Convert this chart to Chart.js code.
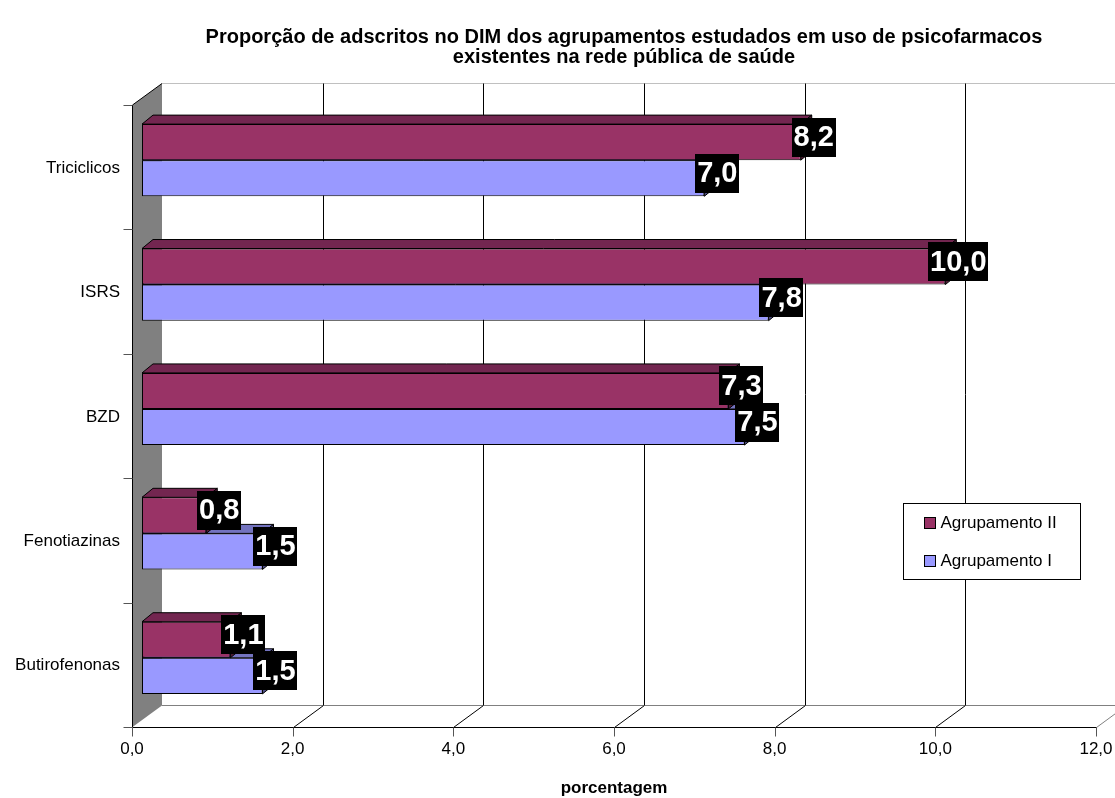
<!DOCTYPE html>
<html>
<head>
<meta charset="utf-8">
<title>Psicofarmacos</title>
<script src="https://cdn.jsdelivr.net/npm/chart.js@4.4.0/dist/chart.umd.min.js"></script>
<style>
    html, body { margin: 0; padding: 0; background: #fff; }
</style>
</head>
<body>
<canvas id="chartPsicofarmacos" width="1115" height="798"></canvas>
<script>
// Dados
const categorias = ['Triciclicos', 'ISRS', 'BZD', 'Fenotiazinas', 'Butirofenonas'];
const agrupamentoII = [8.2, 10.0, 7.3, 0.8, 1.1];
const agrupamentoI = [7.0, 7.8, 7.5, 1.5, 1.5];
const nomesSeries = ['Agrupamento II', 'Agrupamento I'];
const ticksX = [0, 2, 4, 6, 8, 10, 12];
const titulo = [
    'Proporção de adscritos no DIM dos agrupamentos estudados em uso de psicofarmacos',
    'existentes na rede pública de saúde'
];
const tituloEixoX = 'porcentagem';

// Cores (estilo Excel)
const corII = '#993366';
const corI = '#9999ff';
const faces = [
    { topo: '#732650', lado: '#4d1a33' },
    { topo: '#7373bf', lado: '#4d4d80' }
];

// deslocamentos do efeito 3D (px)
const barra3D = { dx: 11, dy: 9 };
const frente = { dx: -10, dy: 7 };
const fundo = { dx: 20, dy: -15 };

function formatar(v) {
    return Number(v).toFixed(1).replace('.', ',');
}

function linha(ctx, x1, y1, x2, y2) {
    ctx.beginPath();
    ctx.moveTo(x1, y1);
    ctx.lineTo(x2, y2);
    ctx.stroke();
}

function poligono(ctx, pts, cor) {
    ctx.beginPath();
    ctx.moveTo(pts[0][0], pts[0][1]);
    for (let i = 1; i < pts.length; i++) ctx.lineTo(pts[i][0], pts[i][1]);
    ctx.closePath();
    ctx.fillStyle = cor;
    ctx.fill();
    ctx.stroke();
}

const efeito3D = {
    id: 'efeito3D',
    beforeDatasetsDraw(chart) {
        const { ctx, chartArea: a, scales: { x } } = chart;
        const n = categorias.length;
        const fTop = a.top + frente.dy, fBot = a.bottom + frente.dy, fLeft = Math.round(a.left + frente.dx) + 0.5;
        const bTop = Math.round(a.top + fundo.dy) + 0.5, bBot = Math.round(a.bottom + fundo.dy) + 0.5;
        const bLeft = a.left + fundo.dx;
        const xFrente = v => Math.round(x.getPixelForValue(v) + frente.dx) + 0.5;
        const xFundo = v => Math.round(x.getPixelForValue(v) + fundo.dx) + 0.5;
        const ultimo = ticksX[ticksX.length - 1];
        const yFrenteBase = Math.round(fBot) + 0.5;

        ctx.save();
        ctx.lineWidth = 1;

        // parede lateral
        ctx.fillStyle = '#808080';
        ctx.beginPath();
        ctx.moveTo(fLeft, fTop);
        ctx.lineTo(bLeft, bTop);
        ctx.lineTo(bLeft, bBot);
        ctx.lineTo(fLeft, fBot);
        ctx.closePath();
        ctx.fill();

        // borda de cima da parede do fundo
        ctx.strokeStyle = '#c0c0c0';
        linha(ctx, bLeft, bTop, xFundo(ultimo), bTop);

        // linhas de grade na parede do fundo
        ctx.strokeStyle = '#000';
        ticksX.forEach(v => {
            if (v === 0) return;
            linha(ctx, xFundo(v), bTop, xFundo(v), bBot);
        });

        // chao
        ctx.strokeStyle = '#808080';
        linha(ctx, bLeft, bBot, xFundo(ultimo), bBot);
        ticksX.forEach(v => {
            if (v === 0) return;
            ctx.strokeStyle = v === ultimo ? '#808080' : '#000';
            linha(ctx, xFrente(v), yFrenteBase, xFundo(v), bBot);
        });
        ctx.strokeStyle = '#000';
        linha(ctx, fLeft, yFrenteBase, xFrente(ultimo), yFrenteBase);

        // eixo vertical e topo da parede lateral
        linha(ctx, fLeft, fTop, fLeft, fBot);
        linha(ctx, fLeft, fTop, bLeft, bTop);

        // marcas dos eixos
        ctx.strokeStyle = '#555';
        ticksX.forEach(v => linha(ctx, xFrente(v), yFrenteBase, xFrente(v), yFrenteBase + 9));
        for (let i = 0; i <= n; i++) {
            const yy = Math.round(fTop + i * (fBot - fTop) / n) + 0.5;
            linha(ctx, fLeft - 9, yy, fLeft, yy);
        }
        ctx.restore();
    },
    afterDatasetDraw(chart, args) {
        const { ctx } = chart;
        const cores = faces[args.index];
        ctx.save();
        ctx.strokeStyle = '#000';
        ctx.lineWidth = 1;
        args.meta.data.forEach(bar => {
            const { x: fim, y: cy, base, height } = bar.getProps(['x', 'y', 'base', 'height'], true);
            const t = cy - height / 2, b = cy + height / 2;
            poligono(ctx, [[base, t], [base + barra3D.dx, t - barra3D.dy], [fim + barra3D.dx, t - barra3D.dy], [fim, t]], cores.topo);
            poligono(ctx, [[fim, t], [fim + barra3D.dx, t - barra3D.dy], [fim + barra3D.dx, b - barra3D.dy], [fim, b]], cores.lado);
        });
        ctx.restore();
    },
    afterDatasetsDraw(chart) {
        const { ctx, scales: { x } } = chart;
        ctx.save();

        // rotulos de valores
        ctx.font = 'bold 29px Arial, "Liberation Sans", sans-serif';
        ctx.textAlign = 'center';
        ctx.textBaseline = 'alphabetic';
        [0, 1].forEach(i => {
            const meta = chart.getDatasetMeta(i);
            const valores = chart.data.datasets[i].data;
            meta.data.forEach((bar, j) => {
                const { x: fim, y: cy } = bar.getProps(['x', 'y'], true);
                const txt = formatar(valores[j]);
                const w = ctx.measureText(txt).width + 4;
                const h = 39;
                const lx = fim + 13, ly = cy - 5;
                ctx.fillStyle = '#000';
                ctx.fillRect(Math.round(lx - w / 2), Math.round(ly - h / 2), Math.round(w), h);
                ctx.fillStyle = '#fff';
                ctx.fillText(txt, lx, ly + 9);
            });
        });

        // titulo do eixo x
        const x0 = x.getPixelForValue(ticksX[0]) + frente.dx;
        const x1 = x.getPixelForValue(ticksX[ticksX.length - 1]) + frente.dx;
        ctx.fillStyle = '#000';
        ctx.font = 'bold 17px Arial, "Liberation Sans", sans-serif';
        ctx.textBaseline = 'middle';
        ctx.fillText(tituloEixoX, (x0 + x1) / 2, 788);

        // legenda
        const lg = { x: 903.5, y: 503.5, w: 177, h: 76 };
        ctx.fillStyle = '#fff';
        ctx.fillRect(lg.x, lg.y, lg.w, lg.h);
        ctx.strokeStyle = '#000';
        ctx.lineWidth = 1;
        ctx.strokeRect(lg.x, lg.y, lg.w, lg.h);
        ctx.font = '17px Arial, "Liberation Sans", sans-serif';
        ctx.textAlign = 'left';
        [corII, corI].forEach((cor, i) => {
            const yy = lg.y + 19 + i * 38;
            ctx.fillStyle = cor;
            ctx.fillRect(lg.x + 21, yy - 5, 11, 11);
            ctx.strokeRect(lg.x + 21, yy - 5, 11, 11);
            ctx.fillStyle = '#000';
            ctx.fillText(nomesSeries[i], lg.x + 37, yy + 1);
        });
        ctx.restore();
    }
};

Chart.defaults.font.family = 'Arial, "Liberation Sans", sans-serif';
Chart.defaults.color = '#000';

const ctx = document.getElementById('chartPsicofarmacos').getContext('2d');
new Chart(ctx, {
    type: 'bar',
    data: {
        labels: categorias,
        datasets: [
            {
                label: nomesSeries[0],
                data: agrupamentoII,
                backgroundColor: corII,
                borderColor: '#000',
                borderWidth: 1,
                borderSkipped: false
            },
            {
                label: nomesSeries[1],
                data: agrupamentoI,
                backgroundColor: corI,
                borderColor: '#000',
                borderWidth: 1,
                borderSkipped: false
            }
        ]
    },
    options: {
        indexAxis: 'y',
        responsive: false,
        devicePixelRatio: 1,
        animation: false,
        events: [],
        datasets: {
            bar: { categoryPercentage: 0.58, barPercentage: 1.0 }
        },
        layout: { padding: { top: 0, left: 0, right: 9, bottom: 0 } },
        plugins: {
            legend: { display: false },
            tooltip: { enabled: false },
            title: {
                display: true,
                text: titulo,
                fullSize: false,
                color: '#000',
                font: { size: 20, weight: 'bold', lineHeight: 1.0 },
                padding: { top: 27, bottom: 31 }
            }
        },
        scales: {
            x: {
                min: 0,
                max: 12,
                grid: { display: false, drawTicks: false },
                border: { display: false },
                ticks: {
                    stepSize: 2,
                    padding: 19,
                    labelOffset: frente.dx,
                    maxRotation: 0,
                    font: { size: 17 },
                    callback: value => formatar(value)
                },
                afterFit: scale => {
                    scale.height = 78;
                    scale.paddingLeft = 0;
                    scale.paddingRight = 0;
                }
            },
            y: {
                grid: { display: false, drawTicks: false },
                border: { display: false },
                ticks: {
                    padding: 22,
                    labelOffset: 8,
                    font: { size: 17 }
                },
                afterFit: scale => {
                    scale.width = 142;
                    scale.paddingTop = 0;
                    scale.paddingBottom = 0;
                }
            }
        }
    },
    plugins: [efeito3D]
});
</script>
</body>
</html>
